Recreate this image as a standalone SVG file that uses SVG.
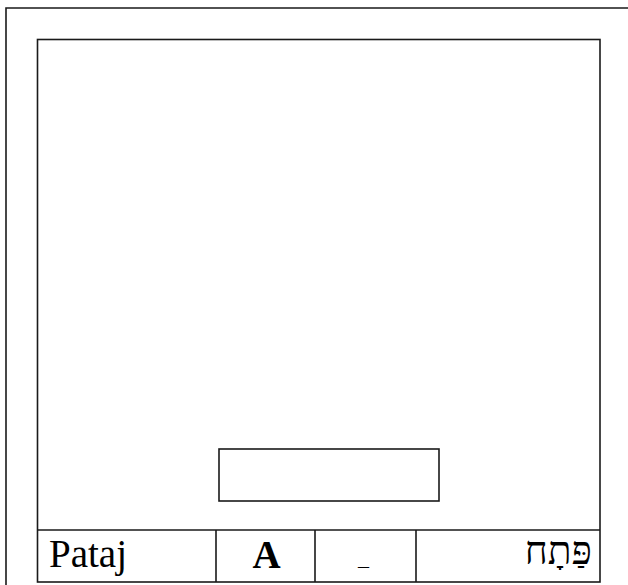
<svg xmlns="http://www.w3.org/2000/svg" width="628" height="585" viewBox="0 0 628 585">
<style>
.ln{fill:none;stroke:#1a1a1a;stroke-width:1.6}
.t{font-family:"Liberation Serif","Times New Roman",serif;fill:#000}
</style>
<rect x="0" y="0" width="628" height="585" fill="#fff"/>
<g id="frame">
<path class="ln" d="M6,590 V8 H640"/>
</g>
<g id="panel">
<rect class="ln" x="37.5" y="39.5" width="562.5" height="542.5"/>
</g>
<g id="box">
<rect class="ln" x="219" y="449" width="220" height="52"/>
</g>
<g id="connectors">
<path class="ln" d="M37.5,530 H600 M216,530 V582 M315,530 V582 M416,530 V582"/>
</g>
<g id="cell-pataj">
<text class="t" x="49" y="566.5" font-size="39">Pataj</text>
</g>
<g id="cell-a">
<text class="t" x="266.5" y="567.5" font-size="39" font-weight="bold" text-anchor="middle">A</text>
</g>
<g id="cell-mark">
<text class="t" x="363.5" y="565" font-size="22" text-anchor="middle">_</text>
</g>
<g id="cell-hebrew">
<text class="t" x="592" y="563.5" font-size="39" text-anchor="end">פַּתָח</text>
</g>
</svg>
